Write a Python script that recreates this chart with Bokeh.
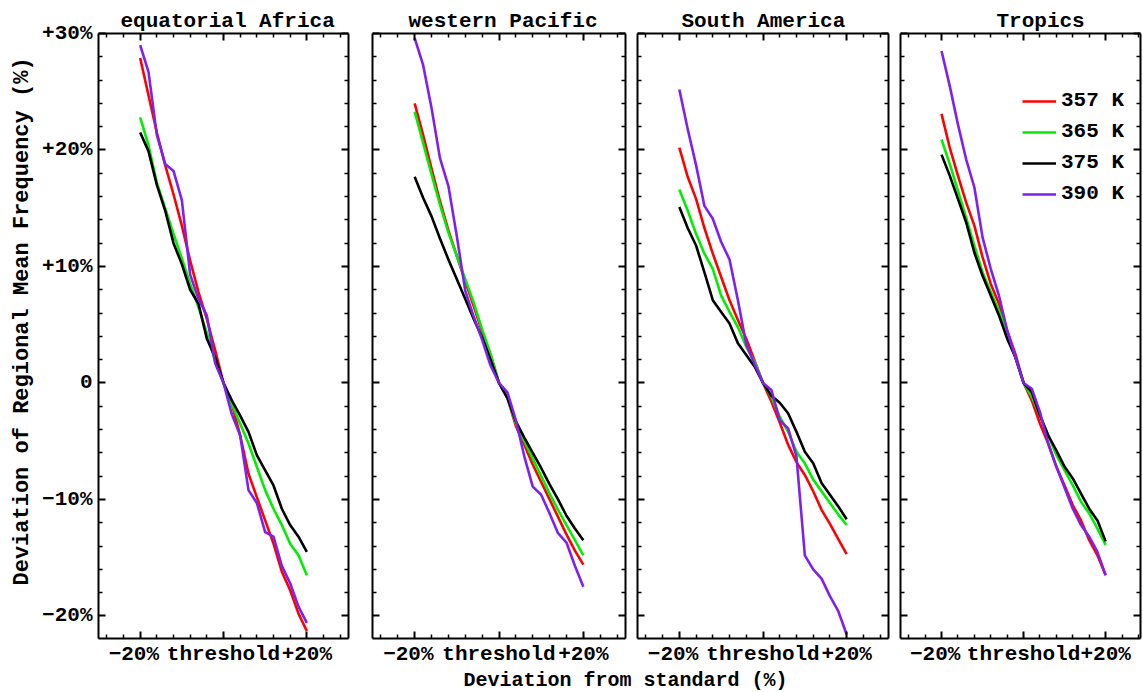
from bokeh.embed import file_html
from bokeh.layouts import column, row
from bokeh.models import (CustomJSTickFormatter, FixedTicker, Label, Legend,
                          LegendItem, LinearAxis, Range1d, Title)
from bokeh.plotting import figure
from bokeh.resources import INLINE

# Deviation of the threshold from its standard value (%)
threshold_dev = [-20, -18, -16, -14, -12, -10, -8, -6, -4, -2, 0,
                 2, 4, 6, 8, 10, 12, 14, 16, 18, 20]

levels = ["357 K", "365 K", "375 K", "390 K"]
level_colors = ["#ff0000", "#00ee00", "#000000", "#7f20f0"]

# Deviation of the regional mean frequency (%) for each potential-temperature level
africa_357 = [27.9, 24.7, 21.5, 18.7, 16.2, 13.5, 10.5, 7.8, 5.5, 2.8, 0,
              -1.8, -4.5, -7.8, -9.8, -11.8, -13.8, -16.2, -17.8, -19.8, -21.3]
africa_365 = [22.8, 20.4, 17.2, 15.0, 12.8, 10.7, 8.5, 6.5, 4.3, 1.8, 0,
              -1.8, -3.5, -5.2, -7.2, -9.2, -10.8, -12.2, -13.8, -14.8, -16.5]
africa_375 = [21.5, 19.9, 17.0, 14.8, 12.0, 10.2, 8.0, 6.8, 3.8, 2.2, 0,
              -1.5, -2.8, -4.2, -6.2, -7.5, -8.8, -10.8, -12.2, -13.2, -14.5]
africa_390 = [29.0, 26.7, 21.3, 18.8, 18.2, 15.7, 9.3, 7.2, 5.8, 1.7, 0,
              -2.7, -4.5, -9.2, -10.3, -12.8, -13.2, -15.7, -17.2, -19.2, -20.6]

pacific_357 = [24.0, 21.3, 18.4, 15.6, 13.1, 10.9, 8.7, 6.6, 4.4, 2.4, 0,
               -1.3, -3.7, -5.3, -7.0, -8.5, -10.0, -11.5, -13.0, -14.4, -15.6]
pacific_365 = [23.3, 20.6, 17.9, 15.3, 12.9, 10.9, 8.9, 6.9, 4.6, 2.5, 0,
               -1.3, -3.5, -5.0, -6.5, -8.0, -9.5, -10.9, -12.2, -13.5, -14.8]
pacific_375 = [17.7, 15.9, 14.3, 12.4, 10.6, 8.9, 7.2, 5.5, 3.9, 2.0, 0,
               -1.3, -3.3, -4.7, -6.0, -7.3, -8.7, -10.0, -11.4, -12.5, -13.5]
pacific_390 = [29.6, 27.3, 23.6, 19.3, 16.9, 12.6, 7.9, 5.7, 3.7, 1.5, 0,
               -0.8, -3.2, -6.3, -8.9, -9.6, -11.2, -12.9, -13.7, -15.7, -17.5]

samerica_357 = [20.2, 17.7, 15.8, 13.3, 11.1, 9.1, 7.1, 5.4, 3.8, 1.9, 0,
                -1.6, -3.4, -5.3, -6.8, -7.9, -9.3, -10.9, -12.1, -13.4, -14.7]
samerica_365 = [16.6, 14.8, 12.8, 11.1, 9.8, 7.5, 6.1, 4.8, 3.1, 1.8, 0,
                -1.2, -2.9, -4.2, -5.9, -6.9, -8.3, -9.3, -10.3, -11.3, -12.2]
samerica_375 = [15.1, 13.3, 11.8, 9.5, 7.1, 6.1, 5.1, 3.4, 2.4, 1.4, 0,
                -1.1, -1.7, -2.6, -4.2, -5.9, -6.9, -8.6, -9.6, -10.6, -11.7]
samerica_390 = [25.2, 21.8, 18.7, 15.2, 14.1, 12.1, 10.6, 7.1, 3.3, 1.6, 0,
                -0.6, -3.2, -3.9, -6.3, -14.8, -16.0, -16.8, -18.3, -19.6, -21.6]

tropics_357 = [23.1, 20.2, 17.8, 15.5, 13.5, 10.8, 8.5, 6.8, 4.5, 2.5, 0,
               -1.5, -3.5, -5.2, -7.2, -8.8, -10.5, -11.8, -13.5, -14.8, -16.5]
tropics_365 = [20.9, 18.8, 16.5, 14.2, 11.8, 9.5, 7.8, 6.2, 4.2, 2.2, 0,
               -1.2, -2.8, -4.5, -6.2, -7.5, -8.8, -10.2, -11.2, -12.5, -13.9]
tropics_375 = [19.6, 17.8, 15.8, 13.8, 11.2, 9.2, 7.5, 5.8, 3.8, 2.2, 0,
               -0.8, -2.8, -4.5, -5.8, -7.2, -8.2, -9.5, -10.8, -11.8, -13.6]
tropics_390 = [28.5, 25.5, 22.2, 19.2, 16.8, 12.5, 9.8, 7.5, 4.5, 2.2, 0,
               -0.5, -2.5, -5.2, -7.2, -9.0, -10.8, -12.2, -13.2, -14.5, -16.5]

region_names = ["equatorial Africa", "western Pacific", "South America", "Tropics"]
region_series = [
    [africa_357, africa_365, africa_375, africa_390],
    [pacific_357, pacific_365, pacific_375, pacific_390],
    [samerica_357, samerica_365, samerica_375, samerica_390],
    [tropics_357, tropics_365, tropics_375, tropics_390],
]

MINUS = "\u2212"
x_major = [-20, 0, 20]
x_minor = [-28, -24, -16, -12, -8, -4, 4, 8, 12, 16, 24, 28]
x_labels = {-20: MINUS + "20% ", 0: "threshold", 20: "+20%"}
y_major = [-20, -10, 0, 10, 20, 30]
y_minor = [v for v in range(-20, 31, 2) if v % 10 != 0]
y_labels = {30: "+30%", 20: "+20%", 10: "+10%", 0: "0",
            -10: MINUS + "10%", -20: MINUS + "20%"}

FONT = "Liberation Mono"
FS = "21px"

# panel frame geometry (px) and horizontal extents
frame_widths = [250, 253, 251, 240]
border_left = [98, 12, 6, 6]
border_right = [12, 6, 6, 3]
x_extents = [(-30, 30), (-30, 30), (-30, 30), (-30, 28.5)]
title_offsets = [22, 36, 44, 96]
FRAME_H = 605
TOP = 33
Y_RANGE = (-21.94, 30)


def add_axis(p, side, major, minor, labels):
    ax = LinearAxis(ticker=FixedTicker(ticks=major, minor_ticks=minor))
    ax.axis_line_width = 2
    ax.axis_line_color = "black"
    ax.major_tick_in = 7
    ax.major_tick_out = 0
    ax.minor_tick_in = 4
    ax.minor_tick_out = 0
    ax.major_tick_line_width = 2
    ax.minor_tick_line_width = 1.5
    ax.major_tick_line_color = "black"
    ax.minor_tick_line_color = "black"
    if labels is None:
        ax.formatter = CustomJSTickFormatter(code="return ''")
        ax.major_label_standoff = 0
        ax.major_label_text_font_size = "1px"
    else:
        ax.major_label_overrides = labels
        ax.major_label_standoff = 6 if side == "left" else 4
        ax.major_label_text_font = FONT
        ax.major_label_text_font_style = "bold"
        ax.major_label_text_font_size = FS
        ax.major_label_text_color = "black"
    p.add_layout(ax, side)
    return ax


panels = []
legend_renderers = None
for i, name in enumerate(region_names):
    p = figure(
        frame_width=frame_widths[i], frame_height=FRAME_H,
        min_border_left=border_left[i], min_border_right=border_right[i],
        min_border_top=TOP, min_border_bottom=30,
        x_range=Range1d(*x_extents[i]), y_range=Range1d(*Y_RANGE),
        x_axis_type=None, y_axis_type=None,
        toolbar_location=None, output_backend="svg",
        outline_line_color=None, background_fill_color="white",
        border_fill_color="white", title=name,
    )
    p.title.align = "left"
    p.title.offset = title_offsets[i]
    p.title.standoff = 2
    p.title.text_font = FONT
    p.title.text_font_style = "bold"
    p.title.text_font_size = FS
    p.title.text_color = "black"

    add_axis(p, "below", x_major, x_minor, x_labels)
    add_axis(p, "above", x_major, x_minor, None)
    add_axis(p, "left", y_major, y_minor, y_labels if i == 0 else None)
    add_axis(p, "right", y_major, y_minor, None)

    if i == 0:
        # y-axis title, outside the tick labels
        p.add_layout(Title(
            text="Deviation of Regional Mean Frequency (%)", align="left",
            offset=53, standoff=10, text_font=FONT, text_font_style="bold",
            text_font_size="22px", text_color="black"), "left")

    renderers = []
    for series, color in zip(region_series[i], level_colors):
        r = p.line(threshold_dev, series, line_color=color, line_width=2.6,
                   line_join="round")
        renderers.append(r)
    if i == 3:
        legend_renderers = renderers
    panels.append(p)

legend = Legend(
    items=[LegendItem(label=lab, renderers=[r])
           for lab, r in zip(levels, legend_renderers)],
    location=(122, 433), orientation="vertical",
    glyph_width=34, glyph_height=20, label_height=20, label_standoff=5,
    spacing=8, padding=0, margin=0,
    border_line_color=None, background_fill_alpha=0,
    label_text_font=FONT, label_text_font_style="bold",
    label_text_font_size=FS, label_text_color="black",
)
panels[3].add_layout(legend)

# shared x-axis title under the panels
foot = figure(width=1143, height=24, x_range=Range1d(0, 1143),
              y_range=Range1d(0, 24), min_border=0,
              x_axis_type=None, y_axis_type=None,
              toolbar_location=None, output_backend="svg",
              outline_line_color=None)
foot.add_layout(Label(x=625, y=12, text="Deviation from standard (%)",
                      text_align="center", text_baseline="middle",
                      text_font=FONT, text_font_style="bold",
                      text_font_size="20px", text_color="black"))

layout = column(row(*panels, spacing=0), foot, spacing=0)
open("out.html", "w").write(file_html(layout, INLINE))
